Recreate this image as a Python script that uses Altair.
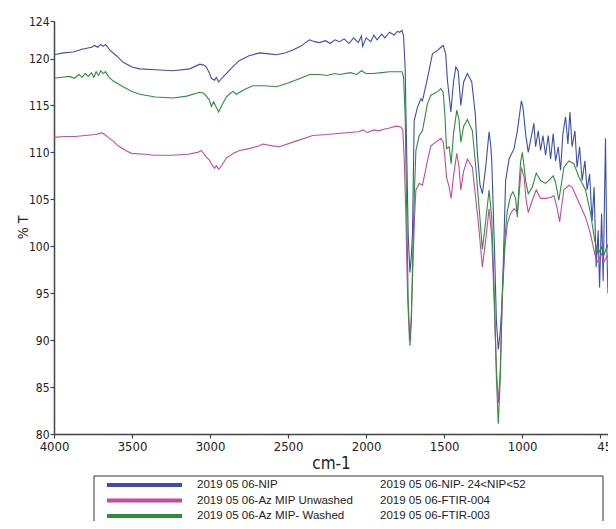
import altair as alt
import pandas as pd

# ---------------- data ----------------
series = ["2019 05 06-NIP", "2019 05 06-Az MIP Unwashed", "2019 05 06-Az MIP- Washed"]
files = ["2019 05 06-NIP- 24<NIP<52", "2019 05 06-FTIR-004", "2019 05 06-FTIR-003"]
colors = ["#3c4fae", "#c24ca0", "#2e8e3c"]

nip_wn = [4000, 3940, 3877, 3820, 3760, 3740, 3720, 3700, 3685, 3670, 3655, 3642, 3600, 3557, 3500,
          3450, 3350, 3237, 3130, 3066, 3040, 3024, 3005, 2992, 2971, 2960, 2945, 2925, 2896, 2850,
          2811, 2750, 2683, 2620, 2576, 2520, 2470, 2420, 2380, 2363, 2330, 2299, 2260, 2230, 2200,
          2171, 2140, 2110, 2080, 2050, 2030, 2022, 2000, 1970, 1950, 1930, 1900, 1880, 1850, 1820,
          1800, 1785, 1770, 1760, 1750, 1740, 1730, 1719, 1710, 1703, 1692, 1671, 1649, 1639, 1607,
          1575, 1540, 1521, 1506, 1490, 1479, 1457, 1440, 1425, 1410, 1393, 1375, 1351, 1323, 1300,
          1287, 1270, 1255, 1234, 1212, 1200, 1195, 1177, 1165, 1153, 1140, 1127, 1106, 1084, 1052,
          1031, 1005, 995, 978, 961, 946, 925, 914, 897, 882, 867, 850, 833, 818, 801,
          786, 769, 754, 739, 722, 707, 694, 680, 662, 648, 632, 616, 598, 584, 568,
          552, 539, 526, 513, 504, 491, 481, 466, 458, 450]
nip_t = [120.4, 120.6, 120.7, 121.0, 121.2, 121.4, 121.2, 121.5, 121.3, 121.5, 121.2, 120.9, 120.3, 119.6, 119.1,
         118.9, 118.8, 118.7, 118.9, 119.4, 119.3, 119.1, 118.5, 117.9, 117.7, 118.0, 117.5, 117.9, 118.4, 119.2,
         119.8, 120.3, 120.6, 120.5, 120.4, 120.6, 120.9, 121.3, 121.8, 122.0, 121.8, 121.7, 121.9, 121.6, 122.0,
         121.8, 122.1, 121.6, 122.2, 121.7, 122.4, 121.3, 122.2, 121.8, 122.5, 122.0, 122.6, 122.2, 122.8, 122.5,
         122.9, 122.8, 123.0, 122.4, 119.0, 110.0, 101.0, 97.2, 99.0, 101.3, 113.4, 114.8, 115.7, 115.5, 117.9,
         120.5, 120.9, 121.2, 121.4, 120.5, 117.7, 114.3, 117.5, 119.1, 118.7, 115.0, 117.5, 118.4, 117.5, 114.0,
         109.9, 106.5, 105.6, 108.4, 112.2, 110.5, 109.1, 99.5, 92.0, 89.0, 91.0, 94.6, 107.0, 109.3, 110.4,
         112.3, 115.5, 114.8, 112.0, 110.0, 111.3, 113.1, 110.6, 112.3, 110.2, 111.8, 109.7, 111.8, 109.3, 112.0,
         109.1, 110.6, 108.1, 112.0, 113.8, 110.9, 114.3, 110.6, 112.3, 108.4, 110.6, 107.0, 109.1, 106.0, 107.7,
         102.7, 106.3, 97.8, 101.7, 95.6, 103.5, 96.3, 111.5, 100.0, 95.0]

unw_wn = [4000, 3930, 3866, 3800, 3738, 3710, 3695, 3675, 3653, 3620, 3589, 3540, 3503, 3420, 3354,
          3250, 3141, 3080, 3056, 3024, 3005, 2992, 2971, 2960, 2945, 2925, 2896, 2850, 2811, 2750,
          2683, 2662, 2600, 2555, 2450, 2342, 2250, 2128, 2050, 2020, 1990, 1980, 1950, 1920, 1880,
          1850, 1809, 1777, 1765, 1755, 1745, 1735, 1722, 1712, 1700, 1690, 1681, 1660, 1639, 1607,
          1585, 1545, 1521, 1506, 1495, 1485, 1468, 1455, 1440, 1419, 1405, 1393, 1375, 1351, 1319,
          1300, 1282, 1255, 1235, 1212, 1195, 1177, 1165, 1153, 1140, 1127, 1110, 1095, 1074, 1052,
          1031, 1020, 1005, 988, 975, 961, 935, 910, 882, 850, 818, 797, 775, 760, 745,
          733, 701, 680, 637, 594, 562, 535, 520, 505, 491, 477, 455, 450]
unw_t = [111.6, 111.7, 111.7, 111.8, 111.9, 112.0, 112.1, 111.9, 111.6, 111.2, 110.7, 110.2, 109.9, 109.8, 109.7,
         109.7, 109.8, 110.0, 110.2, 109.5, 109.2, 108.8, 108.3, 108.6, 108.2, 108.6, 109.4, 109.9, 110.2, 110.4,
         110.7, 110.9, 110.7, 110.6, 111.2, 111.8, 111.9, 112.1, 112.2, 112.4, 112.1, 112.2, 112.4, 112.3, 112.5,
         112.6, 112.8, 112.7, 112.4, 109.0, 103.0, 95.0, 89.9, 92.0, 98.0, 103.0, 106.0, 106.7, 106.5, 109.1,
         110.7, 111.2, 111.5, 111.1, 109.5, 107.4, 106.3, 105.1, 107.5, 109.9, 108.5, 106.0, 108.0, 109.3, 108.4,
         105.5, 102.7, 97.8, 100.5, 104.0, 101.0, 93.0, 87.0, 83.3, 87.0, 94.7, 100.0, 102.4, 103.5, 104.0,
         103.6, 105.5, 108.4, 107.4, 105.0, 103.6, 104.9, 106.0, 105.1, 105.1, 105.2, 105.4, 104.0, 102.6, 104.5,
         106.0, 106.5, 106.3, 104.7, 103.1, 101.3, 99.2, 98.3, 98.8, 99.2, 98.3, 99.0, 98.8]

was_wn = [4000, 3950, 3900, 3870, 3840, 3820, 3800, 3780, 3760, 3745, 3730, 3715, 3700, 3685, 3670,
          3653, 3620, 3557, 3500, 3450, 3350, 3237, 3150, 3066, 3040, 3024, 3005, 2992, 2977, 2960,
          2945, 2925, 2896, 2870, 2853, 2832, 2780, 2725, 2650, 2576, 2500, 2420, 2363, 2300, 2250,
          2200, 2171, 2100, 2060, 2030, 2000, 1958, 1900, 1850, 1788, 1770, 1760, 1750, 1740, 1730,
          1719, 1710, 1700, 1690, 1681, 1660, 1639, 1607, 1585, 1540, 1521, 1506, 1495, 1485, 1468,
          1455, 1440, 1419, 1405, 1393, 1375, 1351, 1319, 1295, 1276, 1255, 1235, 1212, 1195, 1177,
          1165, 1153, 1140, 1127, 1110, 1095, 1074, 1059, 1042, 1031, 1020, 1010, 999, 988, 978,
          961, 935, 910, 882, 850, 818, 801, 786, 765, 750, 733, 701, 669, 637, 594,
          562, 535, 513, 491, 477, 455, 450]
was_t = [117.9, 118.0, 118.1, 117.9, 118.3, 118.0, 118.4, 118.1, 118.5, 118.0, 118.6, 118.2, 118.7, 118.4, 118.6,
         118.1, 117.6, 117.0, 116.5, 116.2, 115.9, 115.8, 116.0, 116.4, 116.3, 116.0, 115.6, 114.9, 115.4, 114.8,
         114.3, 115.0, 115.9, 116.3, 116.5, 116.2, 116.7, 117.1, 117.1, 117.0, 117.4, 117.9, 118.3, 118.3, 118.2,
         118.4, 118.3, 118.5, 118.3, 118.7, 118.4, 118.4, 118.5, 118.6, 118.6, 118.6, 118.0, 114.0, 104.0, 94.0,
         89.4, 92.0, 100.0, 106.0, 110.2, 111.8, 112.3, 115.2, 116.1, 116.5, 116.8, 116.4, 114.0, 110.4, 110.6,
         108.8, 112.0, 114.5, 113.5, 111.1, 112.8, 113.5, 112.3, 108.0, 104.1, 99.7, 102.5, 106.0, 103.0, 94.0,
         86.0, 81.1, 86.0, 95.3, 101.0, 103.8, 105.4, 105.8, 105.1, 103.1, 106.5, 109.0, 110.0, 108.5, 107.0,
         105.6, 106.3, 107.8, 107.0, 106.7, 107.2, 107.5, 106.8, 104.9, 106.5, 108.4, 109.1, 108.8, 107.4, 106.0,
         103.5, 100.6, 99.2, 99.9, 99.0, 100.1, 99.8]

x_ticks = [4000, 3500, 3000, 2500, 2000, 1500, 1000, 500, 450]
y_ticks = [80, 85, 90, 95, 100, 105, 110, 115, 120, 124]

# ---------------- tables ----------------
rows = []
for name, wn, t in [(series[0], nip_wn, nip_t), (series[1], unw_wn, unw_t), (series[2], was_wn, was_t)]:
    for a, b in zip(wn, t):
        rows.append({"series": name, "wn": a, "t": b})
df = pd.DataFrame(rows)
leg = pd.DataFrame({"series": series, "file": files})

NARROW = "Liberation Sans Narrow, Arial Narrow, DejaVu Sans Condensed, Liberation Sans, sans-serif"
REG = "Liberation Sans, Arial, sans-serif"

color_scale = alt.Scale(domain=series, range=colors)

lines = alt.Chart(df).mark_line(strokeWidth=1.1, clip=True).encode(
    x=alt.X("wn:Q", scale=alt.Scale(domain=[450, 4000], reverse=True, nice=False, zero=False),
            axis=alt.Axis(values=x_ticks, title="cm-1", format="d",
                          labelExpr="datum.value == 500 ? '' : datum.label",
                          labelOverlap=False, labelFlush=False, labelFont=NARROW, labelFontSize=13,
                          labelPadding=2, titleFont=NARROW, titleFontSize=17, titleFontWeight="normal",
                          titlePadding=2)),
    y=alt.Y("t:Q", scale=alt.Scale(domain=[80, 124], nice=False, zero=False),
            axis=alt.Axis(values=y_ticks, title="% T", labelFont=NARROW, labelFontSize=12,
                          labelPadding=1, titleFont=NARROW, titleFontSize=14, titleFontWeight="normal",
                          titleX=-31, titleY=206, titleBaseline="middle")),
    color=alt.Color("series:N", scale=color_scale, legend=None),
    detail="series:N",
)

row_y = alt.Y("series:N", scale=alt.Scale(type="point", domain=series, range=[464, 495], padding=0), axis=None)

box = alt.Chart(pd.DataFrame({"k": [0]})).mark_rect(fill="transparent", stroke="#333333", strokeWidth=1).encode(
    x=alt.value(40), x2=alt.value(549), y=alt.value(455), y2=alt.value(520)
)
swatch = alt.Chart(leg).mark_rule(strokeWidth=4).encode(
    x=alt.value(53), x2=alt.value(128), y=row_y,
    color=alt.Color("series:N", scale=color_scale, legend=None),
)
name_txt = alt.Chart(leg).mark_text(align="left", baseline="middle", font=REG, fontSize=11.5, color="#222222").encode(
    x=alt.value(143), y=row_y, text="series:N"
)
file_txt = alt.Chart(leg).mark_text(align="left", baseline="middle", font=REG, fontSize=11.5, color="#222222").encode(
    x=alt.value(326), y=row_y, text="file:N"
)

chart = alt.layer(lines, box, swatch, name_txt, file_txt).resolve_scale(y="independent").properties(
    width=554, height=413,
    autosize=alt.AutoSizeParams(type="none"),
    padding={"left": 46, "top": 13, "right": 0, "bottom": 87},
).configure_view(stroke=None).configure_axis(
    grid=False, domainColor="#444444", domainWidth=1.5, tickColor="#444444", tickSize=4, tickWidth=1.2,
    labelColor="#222222", titleColor="#222222",
)

chart.save("out.html", embed_options={"renderer": "svg", "actions": False})
